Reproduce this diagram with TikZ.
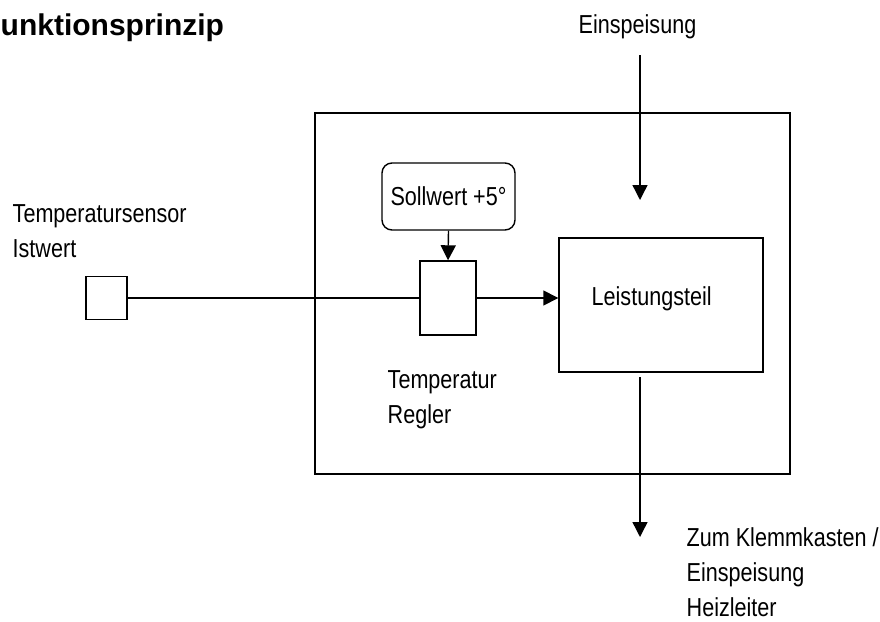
\documentclass[tikz,border=0pt]{standalone}
\usepackage{fontspec}
\setmainfont{Liberation Sans}[FakeStretch=0.83]
\newfontfamily\titlefont{Liberation Sans}
\usetikzlibrary{arrows.meta}
\begin{document}
\begin{tikzpicture}[x=1pt,y=-1pt,
  line width=1.4pt,
  box/.style={draw, rectangle, inner sep=0pt, line width=1.4pt},
  lbl/.style={inner sep=0pt, anchor=base west, align=left, font=\fontsize{26}{35}\selectfont},
  arr/.style={-{Triangle[width=15pt,length=15pt]}, line width=1.4pt},
]
\useasboundingbox (0,0) rectangle (880,621);
% title
\node[inner sep=0pt, anchor=base west, font=\titlefont\bfseries\fontsize{30}{36}\selectfont] (title) at (0,35) {unktionsprinzip};
% boxes
\node[box, minimum width=475pt, minimum height=361pt] (outer) at (552.5,293.5) {};
\node[box, minimum width=204pt, minimum height=134pt] (leist) at (661,305) {};
\node[box, minimum width=56pt, minimum height=74pt] (regler) at (448,298) {};
\node[box, rounded corners=10pt, minimum width=133pt, minimum height=67pt, font=\fontsize{26}{30}\selectfont] (soll) at (448.5,196.5) {Sollwert +5°};
\node[box, minimum width=41pt, minimum height=43pt] (sensor) at (106.5,298) {};
% labels (base = baseline of the last line)
\node[lbl] (einl) at (578,33) {Einspeisung};
\node[lbl] (leistl) at (591,305) {Leistungsteil};
\node[lbl] (sensl) at (12,257) {Temperatursensor\\Istwert};
\node[lbl] (regl) at (387,423) {Temperatur\\Regler};
\node[lbl] (zuml) at (686,616) {Zum Klemmkasten /\\Einspeisung\\Heizleiter};
% connectors
\coordinate (einTop) at (640,55);
\coordinate (einTip) at (640,200);
\coordinate (outStart) at (640,377);
\coordinate (outTip) at (640,537);
\draw[arr] (einTop) -- (einTip);
\draw[arr] (outStart) -- (outTip);
\draw[arr] (soll.south) -- (regler.north);
\draw (sensor.east) -- (regler.west);
\draw[arr] (regler.east) -- (regler.east -| leist.west);
\end{tikzpicture}
\end{document}
